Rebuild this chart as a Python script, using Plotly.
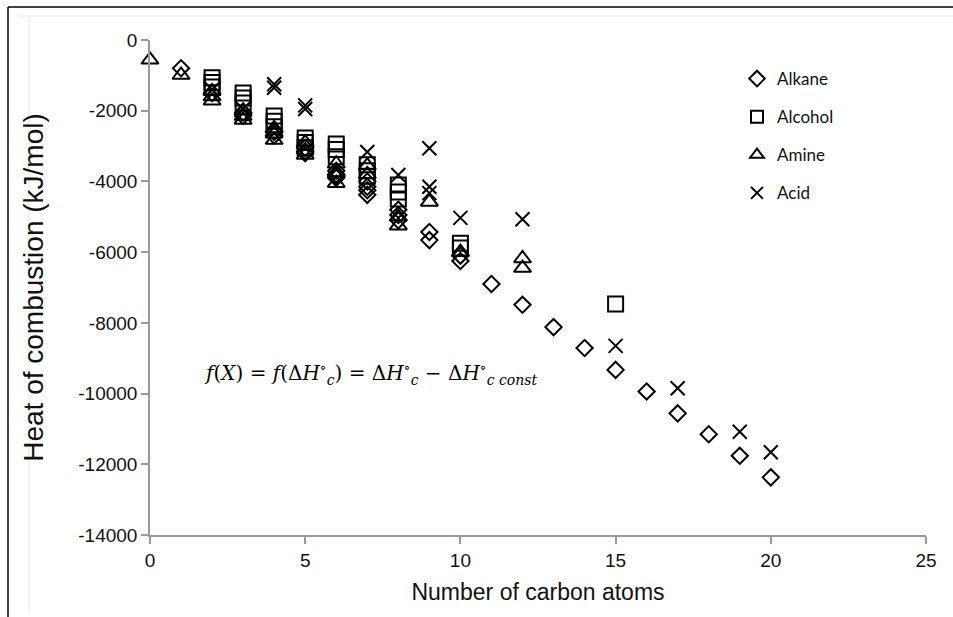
import plotly.graph_objects as go

# ---------------- data ----------------
alkane_x = [1, 2, 3, 3, 4, 4, 5, 5, 5, 6, 6, 6, 6, 7, 7, 7, 7, 8, 8, 8, 9, 9, 10, 10,
            11, 12, 13, 14, 15, 16, 17, 18, 19, 20]
alkane_y = [-800, -1500, -2050, -2150, -2600, -2700, -3050, -3150, -3200, -3700, -3800, -3850, -3900,
            -4000, -4150, -4250, -4380, -4800, -4950, -5100, -5430, -5660, -6100, -6250,
            -6900, -7490, -8120, -8710, -9330, -9940, -10560, -11150, -11760, -12370]

alcohol_x = [2, 2, 2, 3, 3, 3, 4, 4, 4, 5, 5, 5, 6, 6, 6, 7, 7, 7, 8, 8, 8, 10, 10, 15]
alcohol_y = [-1070, -1200, -1330, -1500, -1640, -1780, -2150, -2300, -2450, -2770, -2900, -3050,
             -2940, -3100, -3300, -3530, -3700, -3850, -4100, -4300, -4500, -5750, -5880, -7470]

amine_x = [0, 1, 2, 2, 2, 3, 3, 3, 4, 4, 4, 5, 5, 6, 6, 6, 7, 7, 8, 8, 9, 10, 12, 12]
amine_y = [-560, -990, -1450, -1600, -1720, -2000, -2150, -2260, -2500, -2650, -2830, -2900, -3250,
           -3500, -3750, -4050, -3550, -3800, -5000, -5250, -4580, -6000, -6180, -6450]

acid_x = [2, 3, 4, 4, 5, 5, 7, 8, 9, 9, 9, 10, 12, 15, 17, 19, 20]
acid_y = [-1400, -1950, -1250, -1350, -1850, -1950, -3170, -3820, -3060, -4150, -4330, -5030,
          -5070, -8650, -9850, -11080, -11660]

series_names = ["Alkane", "Alcohol", "Amine", "Acid"]
x_ticks = [0, 5, 10, 15, 20, 25]
y_ticks = [0, -2000, -4000, -6000, -8000, -10000, -12000, -14000]

# ---------------- figure ----------------
W, H = 953, 617
L, R, T, B = 150, 27, 40, 82
pw, ph = W - L - R, H - T - B


def px(xp):
    return (xp - L) / pw


def py(yp):
    return 1 - (yp - T) / ph


fig = go.Figure()
specs = [
    (alkane_x, alkane_y, "diamond-open", 12.5),
    (alcohol_x, alcohol_y, "square-open", 15),
    (amine_x, amine_y, "triangle-up-open", 15),
    (acid_x, acid_y, "x-thin-open", 14),
]
for i, (xs, ys, sym, size) in enumerate(specs):
    fig.add_trace(go.Scatter(
        x=xs, y=ys, mode="markers", name=series_names[i], legendgroup=series_names[i],
        marker=dict(symbol=sym, size=size, color="black",
                    line=dict(color="black", width=2)),
        cliponaxis=False,
    ))

tick_font = dict(family="Liberation Sans, Arial, sans-serif", size=19, color="#111111")
fig.update_xaxes(
    range=[0, 25], tickvals=x_ticks, ticktext=[str(v) for v in x_ticks],
    showline=True, linecolor="#9a9a9a", linewidth=1.5,
    ticks="outside", ticklen=7, tickcolor="#9a9a9a", tickwidth=1.5,
    showgrid=False, zeroline=False, tickfont=tick_font,
    title=dict(text="Number of carbon atoms",
               font=dict(family="Liberation Sans, Arial, sans-serif", size=23, color="#111111"),
               standoff=14),
)
fig.update_yaxes(
    range=[-14000, 0], tickvals=y_ticks, ticktext=[str(v) for v in y_ticks],
    showline=True, linecolor="#9a9a9a", linewidth=1.5,
    ticks="outside", ticklen=7, tickcolor="#9a9a9a", tickwidth=1.5,
    showgrid=False, zeroline=False, tickfont=tick_font,
    title=dict(text="Heat of combustion (kJ/mol)",
               font=dict(family="Liberation Sans, Arial, sans-serif", size=28, color="#111111"),
               standoff=26),
)

formula = ("<i>f</i>(<i>X</i>) = <i>f</i>(Δ<i>H</i><sup>∘</sup><sub><i>c</i></sub>) = "
           "Δ<i>H</i><sup>∘</sup><sub><i>c</i></sub> − Δ<i>H</i><sup>∘</sup><sub><i>c const</i></sub>")
fig.add_annotation(
    x=px(370), y=py(373), xref="paper", yref="paper", text=formula, showarrow=False,
    font=dict(family="DejaVu Serif, Liberation Serif, serif", size=20, color="black"),
    xanchor="center", yanchor="middle",
)

shapes = [
    # outer frame (left and top edges)
    dict(type="line", xref="paper", yref="paper", x0=px(8), x1=px(8), y0=py(7), y1=py(617),
         line=dict(color="black", width=1.5)),
    dict(type="line", xref="paper", yref="paper", x0=px(8), x1=px(953), y0=py(7), y1=py(7),
         line=dict(color="black", width=1.5)),
    # faint inner chart-area frame
    dict(type="line", xref="paper", yref="paper", x0=px(29), x1=px(29), y0=py(18), y1=py(612),
         line=dict(color="#e6e6e6", width=1)),
    dict(type="line", xref="paper", yref="paper", x0=px(18), x1=px(953), y0=py(16), y1=py(16),
         line=dict(color="#e6e6e6", width=1)),
]
fig.update_layout(shapes=shapes)

fig.update_layout(
    width=W, height=H,
    margin=dict(l=L, r=R, t=T, b=B),
    paper_bgcolor="white", plot_bgcolor="white",
    showlegend=True,
    legend=dict(
        x=px(737), y=py(61), xanchor="left", yanchor="top",
        font=dict(family="Lato, Carlito, sans-serif", size=17, color="#111111"),
        tracegroupgap=13, bgcolor="rgba(0,0,0,0)", itemsizing="constant",
    ),
)

fig.write_html("out.html")
